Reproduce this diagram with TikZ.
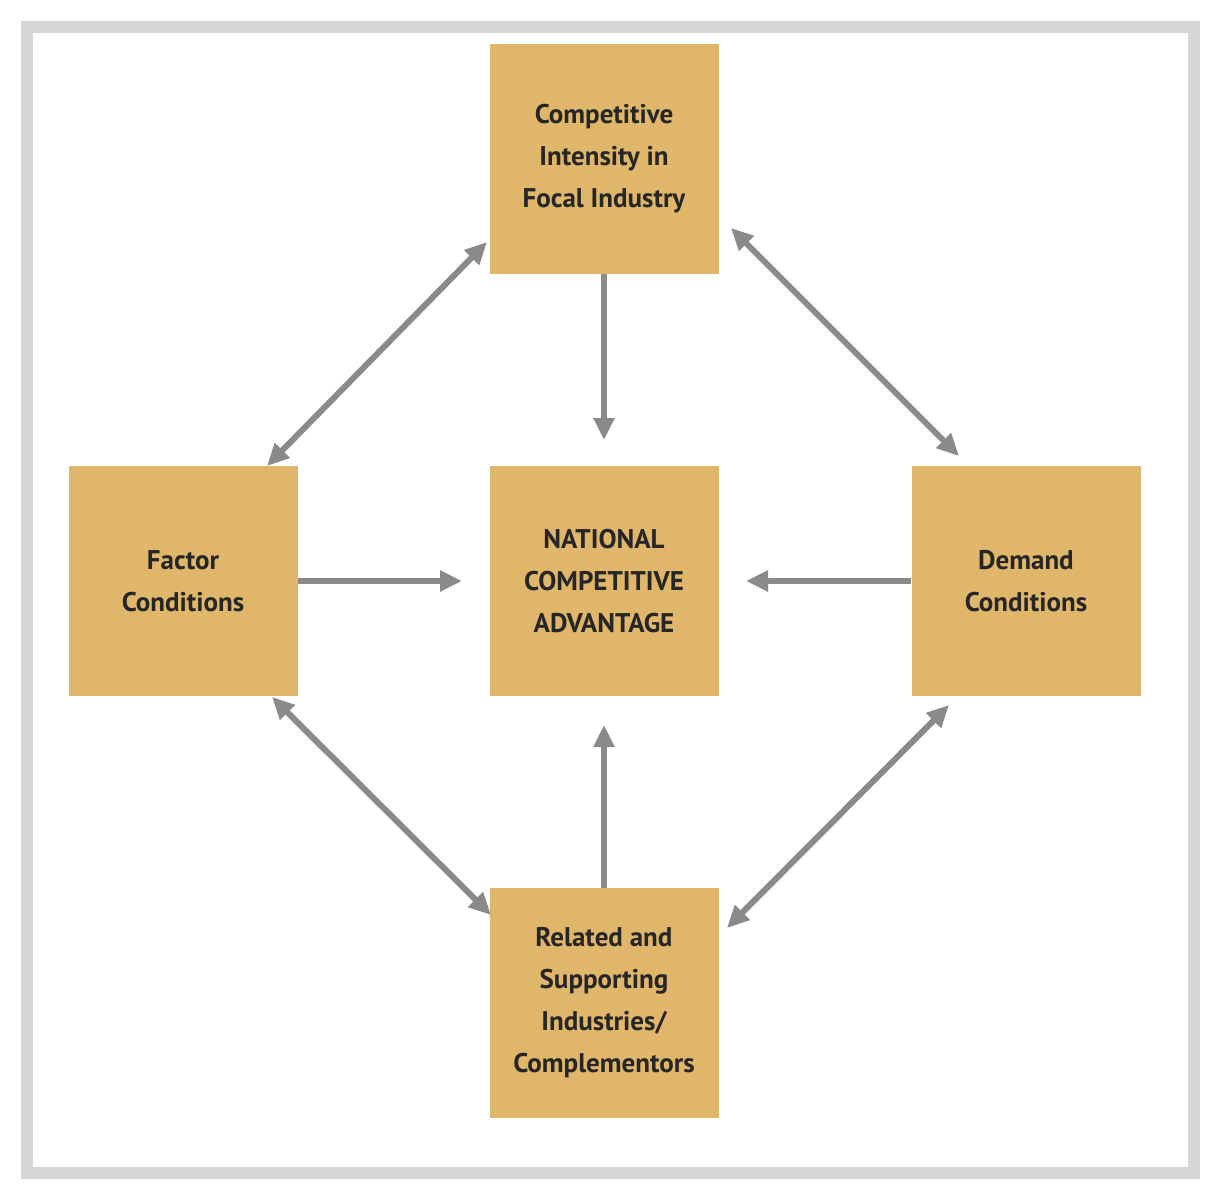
\documentclass[tikz,border=0pt]{standalone}
\usepackage{fontspec}
\setmainfont{PT Sans}
\usetikzlibrary{arrows.meta}
\definecolor{boxc}{HTML}{E0B66A}
\definecolor{arr}{HTML}{8A8A8A}
\definecolor{frm}{HTML}{D6D6D6}
\begin{document}
\begin{tikzpicture}[x=1pt,y=-1pt,
 box/.style={fill=boxc,minimum width=229pt,minimum height=230pt,align=center,inner sep=0pt,font=\fontsize{27}{42}\selectfont\bfseries,text=black!85},
 conn/.style={draw=arr,line width=6pt,-{Triangle[length=22pt,width=20pt]}},
 dconn/.style={draw=arr,line width=6pt,{Triangle[length=22pt,width=20pt]}-{Triangle[length=22pt,width=20pt]}}]
\useasboundingbox (0,0) rectangle (1221,1200);
\fill[white] (0,0) rectangle (1221,1200);
\draw[frm,line width=12pt] (27,27) rectangle (1194,1173);
\node[box] (top) at (604,159) {Competitive\\Intensity in\\Focal Industry};
\node[box] (cen) at (604,581) {NATIONAL\\COMPETITIVE\\ADVANTAGE};
\node[box] (lef) at (183,581) {Factor\\Conditions};
\node[box] (rig) at (1026,581) {Demand\\Conditions};
\node[box] (bot) at (604,1003) {Related and\\Supporting\\Industries/\\Complementors};
\coordinate (ct) at (604,440);
\coordinate (cl) at (462,581);
\coordinate (cr) at (746,581);
\coordinate (cb) at (604,725);
\draw[conn] (top.south) -- (ct);
\draw[conn] (lef.east) -- (cl);
\draw[conn] (rig.west) -- (cr);
\draw[conn] (bot.north) -- (cb);
\coordinate (a1) at (487,242); \coordinate (a2) at (267,466);
\coordinate (b1) at (731,228); \coordinate (b2) at (959,456);
\coordinate (c1) at (272,697); \coordinate (c2) at (491,915);
\coordinate (d1) at (949,705); \coordinate (d2) at (727,928);
\draw[dconn] (a1) -- (a2);
\draw[dconn] (b1) -- (b2);
\draw[dconn] (c1) -- (c2);
\draw[dconn] (d1) -- (d2);
\end{tikzpicture}
\end{document}
